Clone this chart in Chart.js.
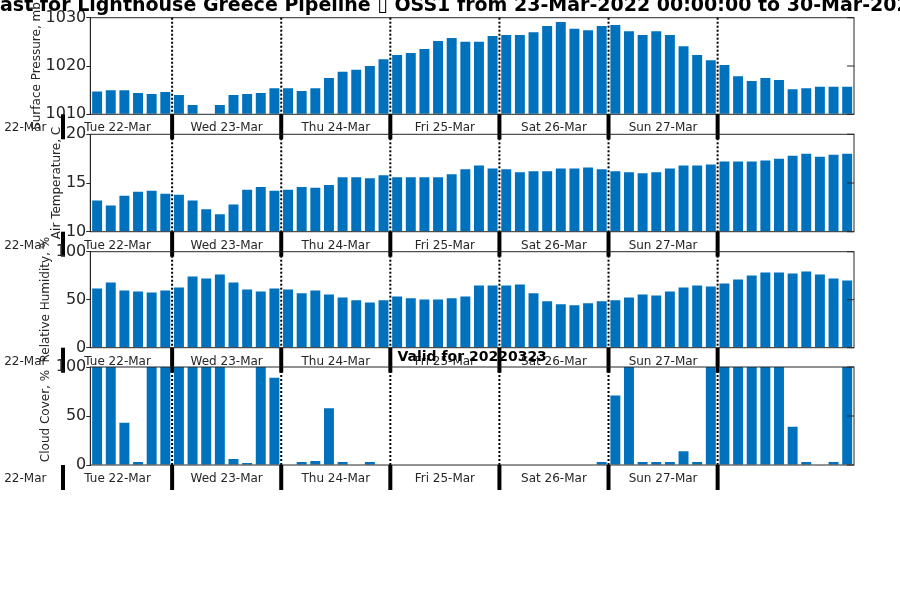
<!DOCTYPE html>
<html>
<head>
<meta charset="utf-8">
<script src="https://cdn.jsdelivr.net/npm/chart.js@4/dist/chart.umd.min.js"></script>
<style>
  body { margin: 0; background: #fff; }
  #wrap { position: relative; width: 900px; height: 600px; overflow: hidden; }
  #wrap canvas { position: absolute; left: 0; top: 0; }
</style>
</head>
<body>
<div id="wrap">
  <canvas id="c1" width="900" height="600"></canvas>
  <canvas id="c2" width="900" height="600"></canvas>
  <canvas id="c3" width="900" height="600"></canvas>
  <canvas id="c4" width="900" height="600"></canvas>
</div>
<script>
// 3-hourly steps, from Tue 22-Mar 06:00
const times = [
  '22-Mar 06:00', '22-Mar 09:00', '22-Mar 12:00', '22-Mar 15:00', '22-Mar 18:00', '22-Mar 21:00',
  '23-Mar 00:00', '23-Mar 03:00', '23-Mar 06:00', '23-Mar 09:00', '23-Mar 12:00', '23-Mar 15:00', '23-Mar 18:00', '23-Mar 21:00',
  '24-Mar 00:00', '24-Mar 03:00', '24-Mar 06:00', '24-Mar 09:00', '24-Mar 12:00', '24-Mar 15:00', '24-Mar 18:00', '24-Mar 21:00',
  '25-Mar 00:00', '25-Mar 03:00', '25-Mar 06:00', '25-Mar 09:00', '25-Mar 12:00', '25-Mar 15:00', '25-Mar 18:00', '25-Mar 21:00',
  '26-Mar 00:00', '26-Mar 03:00', '26-Mar 06:00', '26-Mar 09:00', '26-Mar 12:00', '26-Mar 15:00', '26-Mar 18:00', '26-Mar 21:00',
  '27-Mar 00:00', '27-Mar 03:00', '27-Mar 06:00', '27-Mar 09:00', '27-Mar 12:00', '27-Mar 15:00', '27-Mar 18:00', '27-Mar 21:00',
  '28-Mar 00:00', '28-Mar 03:00', '28-Mar 06:00', '28-Mar 09:00', '28-Mar 12:00', '28-Mar 15:00', '28-Mar 18:00', '28-Mar 21:00',
  '29-Mar 00:00', '29-Mar 03:00'
];

const pressure = [
  1014.7, 1015.0, 1015.0, 1014.4, 1014.2, 1014.6, 1014.0, 1011.9, 1010.0, 1011.9,
  1014.0, 1014.2, 1014.4, 1015.4, 1015.4, 1014.8, 1015.4, 1017.5, 1018.8, 1019.2,
  1020.0, 1021.4, 1022.3, 1022.7, 1023.5, 1025.2, 1025.8, 1025.0, 1025.0, 1026.2,
  1026.4, 1026.4, 1027.0, 1028.3, 1029.1, 1027.7, 1027.4, 1028.3, 1028.5, 1027.2,
  1026.4, 1027.2, 1026.4, 1024.1, 1022.3, 1021.2, 1020.2, 1017.9, 1016.9, 1017.5,
  1017.1, 1015.2, 1015.4, 1015.7, 1015.7, 1015.7
];

const airTemp = [
  13.2, 12.7, 13.7, 14.1, 14.2, 13.9, 13.8, 13.2, 12.3, 11.8,
  12.8, 14.3, 14.6, 14.2, 14.3, 14.6, 14.5, 14.8, 15.6, 15.6,
  15.5, 15.8, 15.6, 15.6, 15.6, 15.6, 15.9, 16.4, 16.8, 16.5,
  16.4, 16.1, 16.2, 16.2, 16.5, 16.5, 16.6, 16.4, 16.2, 16.1,
  16.0, 16.1, 16.5, 16.8, 16.8, 16.9, 17.2, 17.2, 17.2, 17.3,
  17.5, 17.8, 18.0, 17.7, 17.9, 18.0
];

const humidity = [
  61.7, 67.9, 59.7, 58.6, 57.6, 59.7, 62.8, 74.1, 72.1, 76.2,
  67.9, 60.7, 58.6, 61.7, 60.7, 56.6, 59.7, 55.5, 52.4, 49.3,
  47.2, 49.3, 53.4, 51.4, 50.3, 50.3, 51.4, 53.4, 64.8, 64.8,
  64.8, 65.9, 56.6, 48.3, 45.2, 44.1, 46.2, 48.3, 49.3, 52.4,
  55.5, 54.5, 58.6, 62.8, 64.8, 63.8, 66.9, 71.0, 75.2, 78.3,
  78.3, 77.2, 79.3, 76.2, 72.1, 70.0
];

const cloudCover = [
  100, 100, 43, 3, 100, 100, 100, 100, 100, 100,
  6, 2, 100, 89, 0, 3, 4, 58, 3, 0,
  3, 0, 0, 0, 0, 0, 0, 0, 0, 0,
  0, 0, 0, 0, 0, 0, 0, 3, 71, 100,
  3, 3, 3, 14, 3, 100, 100, 100, 100, 100,
  100, 39, 3, 0, 3, 100
];

const dayLabels = ['Tue 22-Mar', 'Wed 23-Mar', 'Thu 24-Mar', 'Fri 25-Mar', 'Sat 26-Mar', 'Sun 27-Mar'];
const dayStarts = [-2, 6, 14, 22, 30, 38, 46]; // index of 00:00 of each day
const leftLabel = '22-Mar';

const titleText = 'Forecast for Lighthouse Greece Pipeline \u25AF OSS1 from 23-Mar-2022 00:00:00 to 30-Mar-2022 00:00:00';
const validText = 'Valid for 20220323';

const BLUE = '#0072BD';
const INK = '#262626';

const panels = [
  { id: 'c1', data: pressure, min: 1010, max: 1030, step: 10, label: 'Surface Pressure, mb', top: 17.7, bottom: 114.3, labelX: 37 },
  { id: 'c2', data: airTemp, min: 10, max: 20, step: 5, label: 'Air Temperature, C', top: 134.3, bottom: 231.7, labelX: 57 },
  { id: 'c3', data: humidity, min: 0, max: 100, step: 50, label: 'Relative Humidity, %', top: 251.7, bottom: 347.7, labelX: 46 },
  { id: 'c4', data: cloudCover, min: 0, max: 100, step: 50, label: 'Cloud Cover, %', top: 367, bottom: 465, labelX: 46 }
];

const decor = {
  id: 'decor',
  afterDraw(chart, args, opts) {
    const { ctx, chartArea: a } = chart;
    const x = chart.scales.x, y = chart.scales.y;
    ctx.save();

    // axes box + inward right ticks
    ctx.strokeStyle = INK;
    ctx.lineWidth = 1;
    ctx.strokeRect(a.left, a.top, a.right - a.left, a.bottom - a.top);
    y.ticks.forEach(t => {
      const py = y.getPixelForValue(t.value);
      ctx.beginPath();
      ctx.moveTo(a.right - 7, py);
      ctx.lineTo(a.right, py);
      ctx.stroke();
    });

    // day boundaries
    const bx = dayStarts.map(d => x.getPixelForValue(d - 0.5));
    ctx.strokeStyle = '#000';
    ctx.lineWidth = 2;
    ctx.setLineDash([2, 2]);
    bx.forEach(px => {
      if (px <= a.left + 1) return;
      ctx.beginPath();
      ctx.moveTo(px, a.top);
      ctx.lineTo(px, a.bottom);
      ctx.stroke();
    });
    ctx.setLineDash([]);
    ctx.lineWidth = 4;
    bx.forEach(px => {
      ctx.beginPath();
      ctx.moveTo(px, a.bottom);
      ctx.lineTo(px, a.bottom + 25);
      ctx.stroke();
    });

    // day labels
    ctx.fillStyle = INK;
    ctx.font = '12px "DejaVu Sans"';
    ctx.textAlign = 'center';
    ctx.textBaseline = 'middle';
    const ly = a.bottom + 14;
    ctx.fillText(leftLabel, a.left - 65, ly);
    dayLabels.forEach((s, i) => ctx.fillText(s, (bx[i] + bx[i + 1]) / 2, ly));

    // y label
    ctx.save();
    ctx.translate(opts.labelX, (a.top + a.bottom) / 2);
    ctx.rotate(-Math.PI / 2);
    ctx.fillText(opts.label, 0, 0);
    ctx.restore();

    // titles
    ctx.fillStyle = '#000';
    ctx.textBaseline = 'alphabetic';
    if (opts.main) {
      ctx.font = 'bold 19px "DejaVu Sans"';
      ctx.textAlign = 'left';
      ctx.fillText(titleText, -ctx.measureText('Forec').width, 11);
    }
    if (opts.valid) {
      ctx.font = 'bold 14px "DejaVu Sans"';
      ctx.textAlign = 'center';
      ctx.fillText(validText, (a.left + a.right) / 2, 361);
    }
    ctx.restore();
  }
};

panels.forEach((p, i) => {
  new Chart(document.getElementById(p.id), {
    type: 'bar',
    data: {
      labels: times,
      datasets: [{
        data: p.data,
        base: p.min,
        backgroundColor: BLUE,
        borderWidth: 0,
        barPercentage: 0.73,
        categoryPercentage: 1.0
      }]
    },
    options: {
      responsive: false,
      animation: false,
      events: [],
      layout: { padding: { left: 0, right: 46, top: p.top, bottom: 600 - p.bottom } },
      plugins: {
        legend: { display: false },
        tooltip: { enabled: false },
        decor: { label: p.label, labelX: p.labelX, main: i === 0, valid: i === 3 }
      },
      scales: {
        x: { display: false, offset: true },
        y: {
          min: p.min,
          max: p.max,
          afterFit: s => { s.width = 90.3; },
          ticks: {
            stepSize: p.step,
            color: INK,
            padding: 0,
            font: { family: 'DejaVu Sans', size: 16 },
            callback: v => String(v)
          },
          grid: { drawOnChartArea: false, drawTicks: true, tickLength: 4, color: INK },
          border: { display: true, color: INK, width: 1 }
        }
      }
    },
    plugins: [decor]
  });
});
</script>
</body>
</html>
